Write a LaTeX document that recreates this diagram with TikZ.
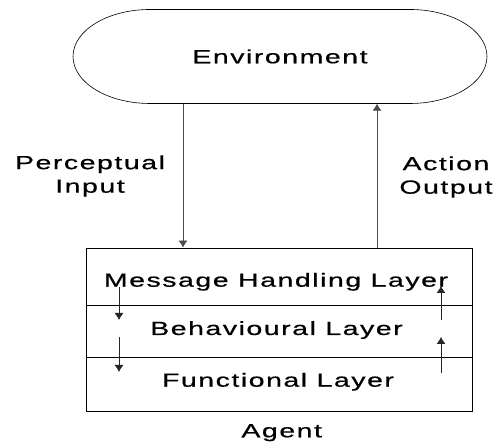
\documentclass[tikz,border=0pt]{standalone}
\usepackage{fontspec}
\setmainfont{Liberation Sans}[FakeStretch=1.5,LetterSpace=8,FakeBold=0.6]
\usetikzlibrary{arrows.meta}

\tikzset{
  conn/.style={draw=black!70, line width=0.8pt, -{Latex[length=7pt,width=9pt]}},
  step arrow/.style={draw=black!85, line width=0.8pt, -{Latex[length=7pt,width=9pt]}},
  lbl/.style={font=\fontsize{19}{23.5}\selectfont, inner sep=0pt},
}

\begin{document}
\begin{tikzpicture}[x=1pt, y=1pt]
  \useasboundingbox (0,0) rectangle (495,443);

  %ambiente
  \node[lbl, minimum width=415pt, minimum height=94pt] (env) at (280, 386.5) {Environment};
  \draw[line width=0.6pt] (150, 433.5) -- (410, 433.5)
     arc[start angle=90, end angle=-90, x radius=77pt, y radius=47pt] -- (150, 339.5)
     arc[start angle=270, end angle=90, x radius=77pt, y radius=47pt] -- cycle;

  %agente
  \node[draw, line width=0.9pt, minimum width=386pt, minimum height=163pt] (agt) at (279, 113.5) {};
  \draw[line width=0.8pt] (agt.west |- 0,138) -- (agt.east |- 0,138);
  \draw[line width=0.8pt] (agt.west |- 0,86) -- (agt.east |- 0,86);
  \node[lbl, anchor=base] (msg) at (276, 156.3) {Message Handling Layer};
  \node[lbl, anchor=base] (beh) at (276.5, 108) {Behavioural Layer};
  \node[lbl, anchor=base] (fun) at (278, 56.3) {Functional Layer};
  \node[lbl, anchor=base] (agent) at (281.7, 5.7) {Agent};

  %entrada e saida
  \draw[conn] (env.south -| 183,0) -- (agt.north -| 183,0);
  \draw[conn] (agt.north -| 377,0) -- (env.south -| 377,0);
  \node[lbl, align=center] (perc) at (90, 267) {Perceptual\\Input};
  \node[lbl, align=center] (act) at (446, 266) {Action\\Output};

  %entre camadas
  \coordinate (d1) at (119, 156);
  \coordinate (d2) at (119, 123);
  \coordinate (d3) at (119, 106);
  \coordinate (d4) at (119, 71);
  \coordinate (u1) at (441, 123);
  \coordinate (u2) at (441, 157);
  \coordinate (u3) at (441, 70);
  \coordinate (u4) at (441, 106);
  \draw[step arrow] (d1) -- (d2);
  \draw[step arrow] (d3) -- (d4);
  \draw[step arrow] (u1) -- (u2);
  \draw[step arrow] (u3) -- (u4);
\end{tikzpicture}
\end{document}
